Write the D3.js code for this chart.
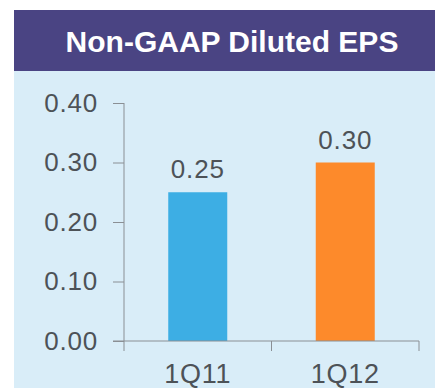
<!DOCTYPE html>
<html>
<head>
<meta charset="utf-8">
<script src="https://cdn.jsdelivr.net/npm/d3@7"></script>
<style>
  html, body { margin: 0; padding: 0; background: #ffffff; }
  svg { display: block; font-family: "Liberation Sans", Arial, sans-serif; }
</style>
</head>
<body>
<svg id="chart" width="435" height="388"></svg>
<script>
const title = "Non-GAAP Diluted EPS";
const categories = ["1Q11", "1Q12"];
const values = [0.25, 0.30];
const barColors = ["#3daee4", "#fd8a2b"];
const yTicks = [0.00, 0.10, 0.20, 0.30, 0.40];

const svg = d3.select("#chart");
const W = 435, H = 388;

// Panel & header
svg.append("rect").attr("x", 14).attr("y", 71).attr("width", W - 14).attr("height", H - 71).attr("fill", "#d9edf8");
svg.append("rect").attr("x", 14).attr("y", 10).attr("width", W - 14).attr("height", 61).attr("fill", "#4a4483");
svg.append("text").attr("x", 232).attr("y", 51.5).attr("text-anchor", "middle")
  .attr("fill", "#ffffff").attr("font-weight", "bold").attr("font-size", 30).text(title);

const x = d3.scaleBand().domain(categories).range([124, 419]).padding(0);
const y = d3.scaleLinear().domain([0, 0.40]).range([341, 103]);

const axisColor = "#8a8f94";
const textColor = "#4d5257";

// Y axis
const yAxis = svg.append("g").attr("transform", "translate(124,0)")
  .call(d3.axisLeft(y).tickValues(yTicks).tickFormat(d3.format(".2f")).tickSize(11).tickPadding(15));
yAxis.select(".domain").attr("stroke", axisColor).attr("d", "M0,103V351");
yAxis.selectAll(".tick line").attr("stroke", axisColor);
yAxis.selectAll(".tick text").attr("fill", textColor).attr("font-size", 26)
  .attr("font-family", "'Liberation Sans', Arial, sans-serif").attr("letter-spacing", 0.8);

// Bars
const barW = x.bandwidth() * 0.4;
svg.selectAll("rect.bar").data(values).enter().append("rect").attr("class", "bar")
  .attr("x", (d, i) => x(categories[i]) + x.bandwidth() / 2 - barW / 2)
  .attr("y", d => y(d))
  .attr("width", barW)
  .attr("height", d => y(0) - y(d))
  .attr("fill", (d, i) => barColors[i]);

// X axis
const xAxis = svg.append("g").attr("transform", "translate(0,341)");
xAxis.append("line").attr("x1", 113).attr("x2", 419).attr("y1", 0).attr("y2", 0).attr("stroke", axisColor);
const boundaries = [x(categories[1]), x.range()[1]];
xAxis.selectAll("line.ct").data(boundaries).enter().append("line").attr("class", "ct")
  .attr("x1", d => d).attr("x2", d => d).attr("y1", 0).attr("y2", 10).attr("stroke", axisColor);
xAxis.selectAll("text").data(categories).enter().append("text")
  .attr("x", d => x(d) + x.bandwidth() / 2).attr("y", 42)
  .attr("text-anchor", "middle").attr("fill", textColor).attr("font-size", 27).attr("letter-spacing", 0.8)
  .text(d => d);

// Value labels
svg.selectAll("text.val").data(values).enter().append("text").attr("class", "val")
  .attr("x", (d, i) => x(categories[i]) + x.bandwidth() / 2)
  .attr("y", d => y(d) - 14)
  .attr("text-anchor", "middle").attr("fill", textColor).attr("font-size", 26).attr("letter-spacing", 0.8)
  .text(d => d3.format(".2f")(d));
</script>
</body>
</html>
